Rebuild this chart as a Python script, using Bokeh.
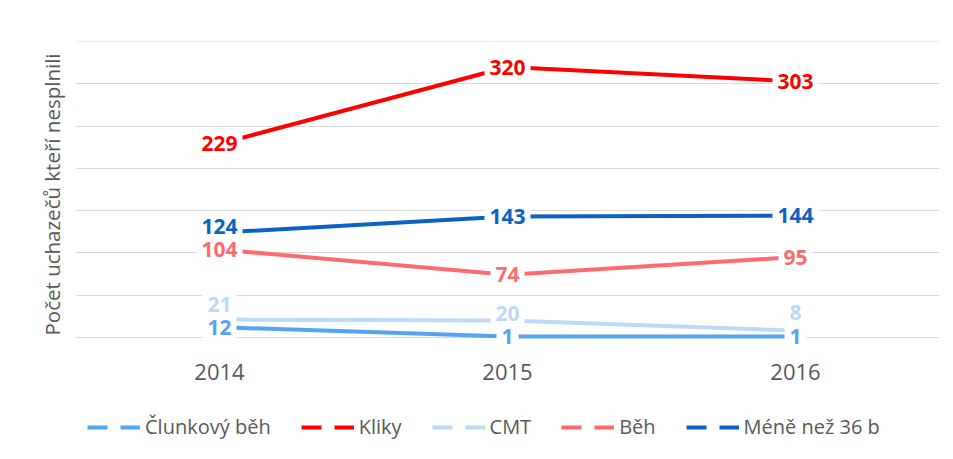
from bokeh.plotting import figure
from bokeh.layouts import column
from bokeh.models import (ColumnDataSource, Legend, LegendItem, FixedTicker,
                          Range1d, FactorRange)
from bokeh.core.properties import value
from bokeh.embed import file_html
from bokeh.resources import INLINE

# ---- data ----
years = ["2014", "2015", "2016"]
series_names = ["Člunkový běh", "Kliky", "CMT", "Běh", "Méně než 36 b"]
clunkovy_beh = [12, 1, 1]
kliky = [229, 320, 303]
cmt = [21, 20, 8]
beh = [104, 74, 95]
mene_nez_36b = [124, 143, 144]
y_grid_ticks = [0, 50, 100, 150, 200, 250, 300, 350]

series_values = [clunkovy_beh, kliky, cmt, beh, mene_nez_36b]

# ---- styles ----
colors = ["#55A3F5", "#FF0000", "#BDD9F8", "#FF6B6B", "#0A63C2"]
label_dy = [[0, 0, 0], [0, 0, 0], [-15, -7, -18], [0, 0, 0], [-6, 0, 0]]
FONT = "Open Sans"
TEXT_GRAY = "#595959"
GRID = "#D9D9D9"

# ---- main chart ----
p = figure(width=945, height=410,
           x_range=FactorRange(factors=years, range_padding=0),
           y_range=Range1d(-12, 350.2),
           output_backend="svg", toolbar_location=None,
           min_border_left=75, min_border_right=6,
           min_border_top=41, min_border_bottom=63)
p.outline_line_color = None
p.background_fill_color = "white"
p.border_fill_color = "white"

p.xgrid.visible = False
p.ygrid.ticker = FixedTicker(ticks=y_grid_ticks)
p.ygrid.grid_line_color = GRID
p.ygrid.grid_line_width = 1

p.yaxis.ticker = FixedTicker(ticks=[])
p.yaxis.axis_line_color = None
p.yaxis.major_tick_line_color = None
p.yaxis.minor_tick_line_color = None
p.yaxis.axis_label = "Počet uchazečů kteří nesplnili"
p.yaxis.axis_label_text_font = FONT
p.yaxis.axis_label_text_font_style = "normal"
p.yaxis.axis_label_text_font_size = "20.5px"
p.yaxis.axis_label_text_color = TEXT_GRAY
p.yaxis.axis_label_standoff = 10

p.xaxis.axis_line_color = None
p.xaxis.major_tick_line_color = None
p.xaxis.major_tick_out = 0
p.xaxis.major_tick_in = 0
p.xaxis.major_label_text_font = FONT
p.xaxis.major_label_text_font_size = "22px"
p.xaxis.major_label_text_color = TEXT_GRAY
p.xaxis.major_label_standoff = 16

# lines
for vals, col in zip(series_values, colors):
    p.line(x=years, y=vals, line_color=col, line_width=4)

# data labels (CMT drawn before Člunkový so both remain visible)
order = [1, 3, 4, 2, 0]
for i in order:
    vals = series_values[i]
    src = ColumnDataSource(dict(x=years, y=vals, t=[str(v) for v in vals],
                                dy=label_dy[i]))
    p.text(x="x", y="y", text="t", y_offset="dy", source=src,
           text_font=value(FONT), text_font_style="bold",
           text_font_size="21px", text_color=colors[i],
           text_align="center", text_baseline="middle",
           background_fill_color="white", padding=5)

# ---- legend strip (separate figure so the legend is not clipped) ----
leg = figure(width=945, height=41, x_range=Range1d(0, 1), y_range=Range1d(0, 1),
             x_axis_type=None, y_axis_type=None,
             output_backend="svg", toolbar_location=None,
             min_border=0, min_border_left=0, min_border_right=0,
             min_border_top=0, min_border_bottom=0)
leg.outline_line_color = None
leg.background_fill_color = "white"
leg.border_fill_color = "white"

nan = float("nan")
items = []
for name, col in zip(series_names, colors):
    r = leg.line(x=[0, 1], y=[nan, nan], line_color=col, line_width=4,
                 line_dash="20 13")
    items.append(LegendItem(label=name, renderers=[r]))

legend = Legend(items=items, orientation="horizontal", location=(12, 11),
                glyph_width=53, glyph_height=20, label_standoff=5, spacing=30,
                padding=0, margin=0, border_line_color=None,
                background_fill_alpha=0,
                label_text_font=FONT, label_text_font_size="20px",
                label_text_color=TEXT_GRAY, label_height=20)
leg.add_layout(legend)

layout = column(p, leg, spacing=0)
open("out.html", "w").write(file_html(layout, INLINE))
